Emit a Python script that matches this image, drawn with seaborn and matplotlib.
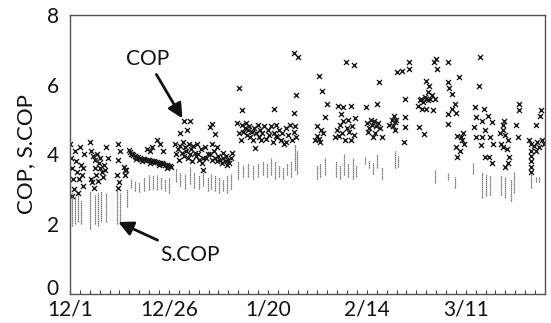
import matplotlib
matplotlib.use("Agg")
import matplotlib.pyplot as plt
import matplotlib.transforms as mtransforms
from matplotlib.ticker import MultipleLocator, FixedLocator
import seaborn as sns
import pandas as pd

# ---- data (days since 12/1) ----
tick_days = [0, 25, 50, 75, 100]
tick_labels = ["12/1", "12/26", "1/20", "2/14", "3/11"]

cop_day = [
    0.0, 0.3, 0.5, 0.8, 1.0, 0.4, 1.3, 1.6, 1.9, 2.2, 2.5, 2.7, 3.0, 3.3, 3.5, 3.2, 2.0,
    5.0, 5.4, 5.9, 6.4, 6.9, 7.3, 7.7, 8.1, 8.6, 9.2, 9.5, 5.2, 5.6, 6.1, 6.5, 7.0, 8.3, 8.9, 6.2, 7.5,
    12.2, 12.6, 12.1, 13.8, 13.9, 12.0, 12.4, 12.2, 14.2, 13.6,
    14.8, 15.2, 15.6, 16.0, 16.4, 16.8, 17.2, 17.6, 18.0, 18.4, 18.8, 19.2, 19.6, 20.0,
    20.4, 20.8, 21.2, 21.6, 22.0, 22.4, 22.8, 23.2, 23.6, 24.0, 24.4, 24.8, 25.2, 25.6,
    15.4, 16.6, 18.2, 20.2, 22.6, 24.6,
    21.9, 22.8, 20.7, 23.6, 19.4, 20.3,
    26.5, 26.8, 27.2, 27.5, 27.8, 28.2, 28.5, 28.8, 29.1, 29.4, 29.7, 30.0, 30.3, 30.6,
    30.9, 31.2, 31.5, 31.8, 32.1, 32.4, 32.7, 33.0, 33.3, 33.6, 34.0, 34.4, 34.8,
    33.7, 28.7, 30.4, 29.5, 27.8,
    35.5, 35.9, 36.3, 36.7, 37.1, 37.5, 37.9, 38.3, 38.7, 39.1, 39.5, 39.9, 40.3, 40.7,
    41.0, 36.0, 37.2, 38.6, 35.9, 36.7, 39.7, 35.4,
    42.6, 43.4, 42.3, 42.8, 43.2,
    43.5, 43.8, 44.1, 44.4, 44.7, 45.0, 45.3, 45.6, 45.9, 46.2, 46.5, 46.8, 47.1, 47.4,
    47.7, 48.0, 48.3, 48.6, 49.0,
    49.5, 50.0, 50.4, 50.8, 51.2, 51.6, 52.0, 52.4, 52.8, 53.2, 53.6, 54.0, 54.5, 55.0,
    55.5, 56.0, 56.5, 56.9, 57.2, 54.5, 52.0,
    56.6, 57.7, 57.0, 51.6, 56.6,
    62.9, 63.7, 65.0, 64.5, 62.5, 63.5, 62.4, 63.0, 64.0, 62.0, 63.2,
    67.0, 67.5, 67.9, 68.3, 68.7, 69.1, 69.5, 69.9, 70.3, 70.6, 70.9, 71.3, 71.7,
    67.6, 69.0, 71.0, 72.0, 69.7, 71.8, 68.5,
    74.7, 77.6, 78.0,
    75.0, 75.5, 76.0, 76.4, 76.9, 77.3, 77.8, 78.4, 75.3, 77.0, 76.6, 78.9,
    81.4, 81.8, 82.2, 81.6, 82.0, 82.4, 84.7, 84.7, 84.3, 84.7, 82.7, 83.9, 85.6, 85.6, 80.5,
    88.0, 88.4, 88.8, 89.2, 89.6, 90.0, 90.5, 91.0, 91.5, 92.3, 89.0, 90.0, 91.8,
    89.9, 90.7, 90.5, 92.4, 92.0, 92.8, 88.2, 89.4,
    95.4, 95.8, 96.6, 97.2, 96.6, 97.5, 95.4, 95.4, 98.3, 97.9, 98.7, 99.6, 97.5, 97.9,
    99.0, 98.5, 99.2, 95.4,
    103.5, 103.4, 102.1, 104.6, 105.5, 106.7, 104.8, 104.2, 106.2, 103.8, 104.8, 105.8,
    106.5, 106.8, 102.5, 102.3, 102.6, 104.2,
    109.7, 109.5, 109.3, 109.8, 109.0, 109.5, 110.3, 111.0, 110.7, 112.7, 113.5, 113.5,
    113.3, 110.6, 108.6, 110.0,
    119.0, 118.8, 117.7, 116.0, 116.6, 117.2, 118.0, 118.5, 119.2, 119.7, 116.5, 116.5,
    116.5, 116.5, 116.5, 117.8,
]
cop_val = [
    4.3, 3.9, 3.6, 3.3, 3.0, 2.8, 4.1, 3.8, 3.5, 3.3, 4.2, 3.7, 3.4, 3.1, 4.0, 3.6, 2.9,
    4.35, 4.1, 3.95, 3.85, 4.0, 3.75, 3.6, 3.5, 3.7, 4.2, 3.9, 3.3, 3.2, 3.05, 3.4, 3.25, 3.35, 3.55, 3.6, 3.9,
    4.3, 4.1, 3.85, 3.55, 3.4, 3.4, 3.2, 3.03, 3.55, 3.65,
    4.12, 4.06, 4.02, 3.98, 3.95, 3.93, 3.92, 3.90, 3.88, 3.88, 3.86, 3.85, 3.84, 3.84,
    3.82, 3.80, 3.80, 3.78, 3.77, 3.76, 3.75, 3.74, 3.72, 3.71, 3.70, 3.68, 3.66, 3.64,
    4.0, 3.86, 3.8, 3.76, 3.69, 3.62,
    4.4, 4.3, 4.2, 4.1, 4.16, 4.11,
    4.3, 4.0, 4.15, 3.85, 4.25, 4.05, 4.35, 3.95, 4.2, 4.1, 3.9, 4.3, 4.0, 4.15,
    3.8, 4.25, 4.05, 3.95, 4.3, 4.0, 3.85, 4.15, 3.75, 3.9, 4.2, 3.9, 4.0,
    3.54, 4.97, 4.97, 4.7, 4.6,
    4.0, 3.85, 4.1, 3.9, 3.8, 3.95, 3.85, 3.75, 3.9, 3.8, 3.95, 3.85, 3.75, 3.9,
    4.05, 4.3, 4.2, 4.05, 4.88, 4.59, 3.7, 4.78,
    5.9, 5.26, 4.9, 4.6, 4.4,
    4.85, 4.65, 4.75, 4.9, 4.55, 4.7, 4.8, 4.5, 4.65, 4.4, 4.75, 4.17, 4.6, 4.85,
    4.5, 4.7, 4.4, 4.6, 4.8,
    4.45, 4.7, 4.55, 4.8, 4.35, 4.6, 4.85, 4.5, 4.7, 4.4, 4.6, 4.3, 4.75, 4.55,
    4.85, 4.4, 4.65, 4.8, 4.5, 4.35, 4.54,
    6.92, 6.8, 5.69, 5.29, 5.2,
    6.26, 5.83, 5.45, 5.06, 4.8, 4.7, 4.54, 4.45, 4.6, 4.4, 4.35,
    4.5, 4.7, 4.54, 4.85, 4.6, 4.95, 4.4, 4.75, 5.0, 4.65, 4.4, 4.8, 4.55,
    5.4, 5.35, 5.4, 5.05, 6.64, 6.56, 5.15,
    5.35, 5.45, 6.07,
    4.9, 4.75, 5.0, 4.85, 4.95, 4.8, 4.9, 4.75, 4.65, 4.6, 4.5, 4.5,
    5.0, 5.1, 4.93, 4.8, 4.7, 5.0, 5.07, 4.78, 4.35, 5.6, 6.35, 6.4, 6.45, 6.64, 4.85,
    5.4, 5.55, 5.6, 5.5, 5.65, 5.6, 5.55, 5.6, 5.7, 5.6, 5.3, 5.3, 5.26,
    6.11, 5.97, 5.78, 6.73, 6.64, 6.45, 4.78, 4.59,
    6.07, 5.9, 5.73, 5.45, 5.3, 5.2, 5.16, 4.88, 6.21, 4.54, 4.5, 4.3, 4.21, 3.92,
    4.4, 4.1, 4.6, 6.64,
    6.78, 5.95, 4.78, 5.3, 5.11, 4.93, 4.69, 4.5, 4.5, 4.26, 3.92, 3.92,
    3.74, 4.3, 4.5, 5.35, 5.07, 4.97,
    4.97, 4.83, 4.7, 4.55, 4.3, 4.2, 4.15, 3.92, 3.74, 4.83, 5.45, 5.26,
    4.5, 4.4, 4.6, 3.63,
    5.26, 5.11, 4.83, 4.4, 4.3, 4.25, 4.35, 4.2, 4.4, 4.3, 4.1, 3.95,
    3.8, 3.65, 3.5, 4.1,
]

scop_day = [0.5, 1.2, 2.0, 2.7, 5.0, 6.2, 7.1, 7.9, 9.2, 12.0, 12.7, 14.3,
            15.5, 16.5, 17.5, 18.8, 19.9, 21.0, 22.0, 23.0, 24.0, 25.0,
            26.7, 27.8, 29.0, 30.2, 31.4, 32.5, 33.7, 34.8,
            35.6, 36.6, 37.6, 38.6, 39.6, 40.6,
            42.5, 43.8, 45.0, 46.3, 47.5, 48.8,
            49.8, 50.8, 51.8, 52.8, 53.8, 54.8, 55.8, 56.8, 57.3,
            62.3, 63.2, 64.5, 67.3, 68.2, 69.3, 70.3, 71.4, 72.3,
            74.6, 75.5, 76.6, 77.5, 78.8, 82.0, 82.8,
            92.3, 95.4, 97.3, 101.7, 104.0, 105.0, 106.0,
            109.0, 110.0, 111.3, 112.3, 116.5, 117.8, 118.6]
scop_low = [1.95, 2.0, 2.05, 2.0, 1.85, 2.0, 1.95, 2.1, 2.05, 2.0, 2.05, 2.5,
            3.05, 2.95, 2.93, 2.95, 2.97, 3.0, 2.98, 3.0, 2.95, 2.9,
            3.2, 3.1, 3.0, 3.15, 3.05, 3.0, 3.1, 2.95,
            3.0, 2.95, 2.9, 2.95, 2.9, 3.0,
            3.3, 3.35, 3.35, 3.3, 3.35, 3.4,
            3.35, 3.4, 3.3, 3.35, 3.3, 3.4, 3.35, 3.55, 3.45,
            3.3, 3.35, 3.4, 3.35, 3.3, 3.4, 3.35, 3.3, 3.35,
            3.73, 3.6, 3.45, 3.6, 3.3, 3.6, 3.65,
            3.17, 3.26, 3.05, 3.45, 2.75, 2.8, 2.85,
            2.85, 2.75, 2.65, 2.9, 3.05, 3.2, 3.2]
scop_high = [2.9, 2.8, 2.85, 2.7, 2.95, 2.85, 2.9, 2.95, 2.9, 3.0, 2.9, 3.0,
             3.3, 3.25, 3.2, 3.35, 3.4, 3.42, 3.4, 3.35, 3.3, 3.35,
             3.6, 3.5, 3.45, 3.65, 3.5, 3.4, 3.5, 3.35,
             3.45, 3.4, 3.35, 3.3, 3.4, 3.45,
             3.8, 3.7, 3.75, 3.7, 3.75, 3.8,
             3.75, 3.9, 3.8, 3.7, 3.65, 3.75, 3.8, 4.3, 4.1,
             3.7, 3.75, 3.9, 3.8, 3.7, 4.0, 3.75, 3.9, 3.7,
             3.92, 3.85, 3.75, 4.0, 3.65, 4.1, 3.95,
             3.54, 3.46, 3.35, 3.75, 3.5, 3.45, 3.4,
             3.4, 3.35, 3.3, 3.5, 3.5, 3.35, 3.35]

cop_df = pd.DataFrame({"day": cop_day, "COP": cop_val})

# ---- figure ----
sns.set_theme(style="ticks")
plt.rcParams["font.family"] = ["Lato", "DejaVu Sans"]

fig = plt.figure(figsize=(5.51, 3.23), dpi=100)
ax = fig.add_axes([0.127, 0.090, 0.862, 0.864])

ax.vlines(scop_day, scop_low, scop_high, colors="#555555", linewidth=0.9,
          linestyles=(0, (1, 0.6)))
sns.scatterplot(data=cop_df, x="day", y="COP", marker="x", s=13, color="#1a1a1a",
                linewidth=1.0, ax=ax, legend=False)

ax.set_xlim(0, 120)
ax.set_ylim(0, 8)
ax.xaxis.set_major_locator(FixedLocator(tick_days))
ax.set_xticklabels(tick_labels)
ax.xaxis.set_minor_locator(MultipleLocator(2.5))
ax.set_yticks([0, 2, 4, 6, 8])
ax.tick_params(axis="x", which="both", direction="in", length=3, width=0.8,
               color="#444444", labelsize=15, pad=4, labelcolor="#111111")
ax.tick_params(axis="y", which="both", direction="in", length=0,
               labelsize=15, pad=8, labelcolor="#111111")
for sp in ax.spines.values():
    sp.set_visible(True)
    sp.set_color("#555555")
    sp.set_linewidth(1.0)
ax.set_xlabel("")
ax.set_ylabel("COP, S.COP", fontsize=16, color="#111111", labelpad=8)

# lift the "0" label slightly so it sits just above the date labels
zero_lbl = ax.get_yticklabels()[0]
zero_lbl.set_transform(zero_lbl.get_transform() +
                       mtransforms.ScaledTranslation(0, 5 / 72, fig.dpi_scale_trans))

ax.annotate("COP", xy=(28.4, 5.03), xytext=(19.5, 6.74), fontsize=15,
            ha="center", va="center", color="#111111",
            arrowprops=dict(arrowstyle="-|>", color="#111111", lw=2.0,
                            mutation_scale=22, shrinkA=2, shrinkB=0))
ax.annotate("S.COP", xy=(12.2, 2.06), xytext=(30.4, 1.11), fontsize=15,
            ha="center", va="center", color="#111111",
            arrowprops=dict(arrowstyle="-|>", color="#111111", lw=2.0,
                            mutation_scale=22, shrinkA=3, shrinkB=0))

fig.savefig("out.png", dpi=100)
